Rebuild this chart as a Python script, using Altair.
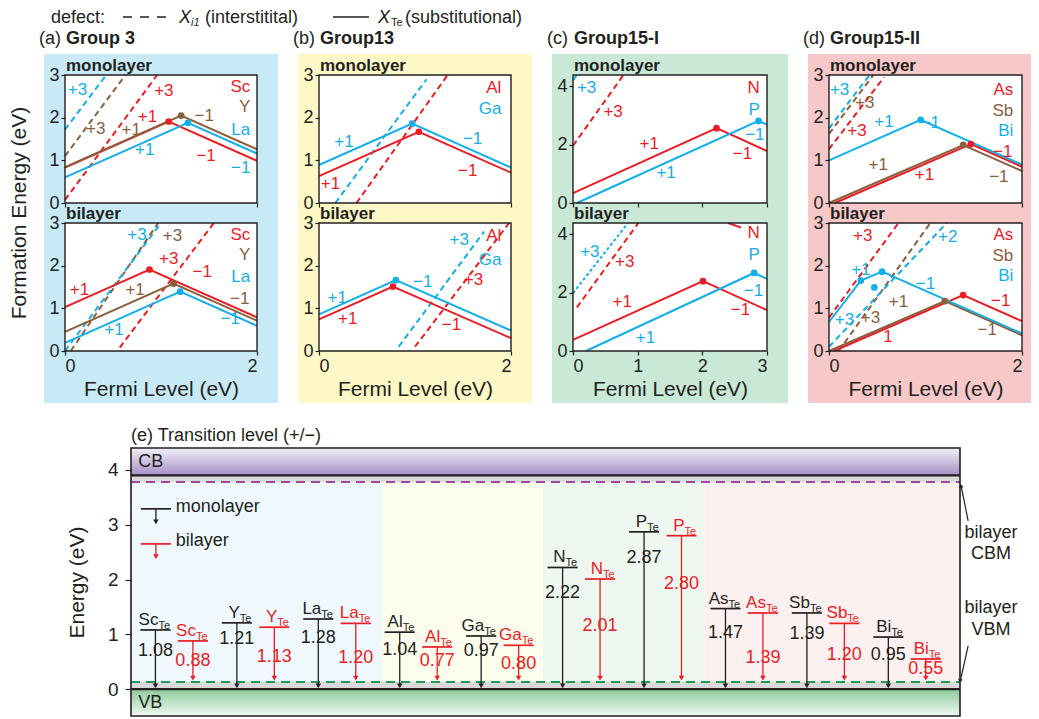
import altair as alt
import pandas as pd

FONT = "Liberation Sans"
INK = "#231f20"
RED = "#ec1c24"
BROWN = "#8b5e3c"
BLUE = "#14aeea"
COLORS = {"Sc": RED, "Y": BROWN, "La": BLUE, "Al": RED, "Ga": BLUE, "N": RED, "P": BLUE,
          "As": RED, "Sb": BROWN, "Bi": BLUE}

# ---------------- (a) Group 3 ----------------
A_MONO_SUB = [("Sc", [(0, 0.83), (1.08, 1.91), (2, 0.99)]),
              ("Y", [(0, 0.84), (1.21, 2.05), (2, 1.26)]),
              ("La", [(0, 0.60), (1.28, 1.88), (2, 1.16)])]
A_MONO_INT = [("La", [(0, 1.72), (0.43, 3.0)]), ("Y", [(0, 1.10), (0.63, 3.0)]),
              ("Sc", [(0.0, 0.07), (0.96, 3.0)])]
A_MONO_DOTS = [("Sc", 1.08, 1.91), ("Y", 1.21, 2.05), ("La", 1.28, 1.88)]
A_MONO_CHARGES = [("+3", "La", 0.13, 2.64), ("+3", "Sc", 1.03, 2.63), ("+1", "Sc", 0.86, 2.01),
                  ("+3", "Y", 0.32, 1.73), ("+1", "Y", 0.69, 1.71), ("+1", "La", 0.83, 1.24),
                  ("−1", "Y", 1.45, 2.05), ("−1", "Sc", 1.47, 1.10), ("−1", "La", 1.83, 0.82)]
A_MONO_LEGEND = [("Sc", 2.72), ("Y", 2.25), ("La", 1.72)]

A_BI_SUB = [("Sc", [(0, 1.03), (0.88, 1.91), (2, 0.79)]),
            ("Y", [(0, 0.45), (1.13, 1.58), (2, 0.71)]),
            ("La", [(0, 0.19), (1.20, 1.39), (2, 0.59)])]
A_BI_INT = [("Y", [(0.06, 0.0), (0.97, 3.0)]), ("La", [(0.0, 0.0), (1.0, 3.0)]),
            ("Sc", [(0.57, 0.08), (1.55, 3.0)])]
A_BI_DOTS = [("Sc", 0.88, 1.91), ("Y", 1.13, 1.58), ("La", 1.20, 1.39)]
A_BI_CHARGES = [("+3", "La", 0.75, 2.73), ("+3", "Y", 1.12, 2.69), ("+3", "Sc", 1.08, 2.15),
                ("+1", "Sc", 0.15, 1.44), ("+1", "Y", 0.73, 1.44), ("+1", "La", 0.51, 0.49),
                ("−1", "Sc", 1.43, 1.86), ("−1", "Y", 1.82, 1.22), ("−1", "La", 1.72, 0.74)]
A_BI_LEGEND = [("Sc", 2.72), ("Y", 2.25), ("La", 1.74)]

# ---------------- (b) Group 13 ----------------
B_MONO_SUB = [("Al", [(0, 0.63), (1.04, 1.67), (2, 0.71)]),
              ("Ga", [(0, 0.89), (0.97, 1.86), (2, 0.83)])]
B_MONO_INT = [("Ga", [(0.17, 0.0), (1.12, 2.9)]), ("Al", [(0.39, 0.0), (1.34, 3.0)])]
B_MONO_DOTS = [("Al", 1.04, 1.67), ("Ga", 0.97, 1.86)]
B_MONO_CHARGES = [("+1", "Ga", 0.26, 1.42), ("+1", "Al", 0.12, 0.45),
                  ("−1", "Ga", 1.60, 1.50), ("−1", "Al", 1.55, 0.76)]
B_MONO_LEGEND = [("Al", 2.70), ("Ga", 2.20)]

B_BI_SUB = [("Al", [(0, 0.74), (0.77, 1.51), (2, 0.30)]),
            ("Ga", [(0, 0.86), (0.80, 1.66), (2, 0.48)])]
B_BI_INT = [("Ga", [(0.83, 0.1), (1.72, 2.8)]), ("Al", [(1.0, 0.1), (1.98, 3.0)])]
B_BI_DOTS = [("Al", 0.77, 1.51), ("Ga", 0.80, 1.66)]
B_BI_CHARGES = [("+3", "Ga", 1.46, 2.59), ("+3", "Al", 1.61, 1.67), ("−1", "Ga", 1.08, 1.61),
                ("−1", "Al", 1.38, 0.62), ("+1", "Ga", 0.19, 1.24), ("+1", "Al", 0.30, 0.76)]
B_BI_LEGEND = [("Al", 2.69), ("Ga", 2.14)]

# ---------------- (c) Group 15-I ----------------
C_MONO_SUB = [("N", [(0, 0.34), (2.22, 2.56), (3, 1.78)]),
              ("P", [(0.06, 0.0), (2.87, 2.81), (3, 2.68)])]
C_MONO_INT = [("N", [(0.0, 1.96), (0.78, 4.38)]), ("P", [(0.0, 4.2), (0.06, 4.38)])]
C_MONO_DOTS = [("N", 2.22, 2.56), ("P", 2.87, 2.81)]
C_MONO_CHARGES = [("+3", "P", 0.21, 3.93), ("+3", "N", 0.62, 3.10), ("+1", "N", 1.18, 2.02),
                  ("+1", "P", 1.44, 1.03), ("−1", "P", 2.81, 2.31), ("−1", "N", 2.62, 1.67)]
C_MONO_LEGEND = [("N", 3.93), ("P", 3.18)]

C_BI_SUB = [("N", [(0, 0.38), (2.01, 2.39), (3, 1.40)]),
            ("N", [(2.4, 4.38), (2.6, 4.22)]),
            ("P", [(0.2, 0.0), (2.80, 2.67), (3, 2.47)])]
C_BI_INT = [("N", [(0.06, 1.49), (1.01, 4.38)])]
C_BI_INT_SHORT = [("P", [(0.0, 1.98), (0.85, 4.38)])]
C_BI_DOTS = [("N", 2.01, 2.39), ("P", 2.80, 2.67)]
C_BI_CHARGES = [("+3", "P", 0.26, 3.40), ("+3", "N", 0.80, 3.05), ("+1", "N", 0.76, 1.66),
                ("+1", "P", 1.12, 0.44), ("−1", "P", 2.79, 2.06), ("−1", "N", 2.59, 1.42)]
C_BI_LEGEND = [("N", 4.03), ("P", 3.28)]

# ---------------- (d) Group 15-II ----------------
D_MONO_SUB = [("As", [(0.06, 0.0), (1.47, 1.38), (2, 0.85)]),
              ("Sb", [(0, 0.0), (1.39, 1.36), (2, 0.75)]),
              ("Bi", [(0, 1.0), (0.95, 1.95), (2, 0.90)])]
D_MONO_INT = [("As", [(0.0, 1.26), (0.57, 2.95)]), ("Sb", [(0.0, 1.62), (0.46, 3.0)]),
              ("Bi", [(0.0, 1.75), (0.42, 3.0)])]
D_MONO_DOTS = [("As", 1.47, 1.38), ("Sb", 1.39, 1.36), ("Bi", 0.95, 1.95)]
D_MONO_CHARGES = [("+3", "Bi", 0.11, 2.66), ("+3", "Sb", 0.37, 2.35), ("+3", "As", 0.29, 1.69),
                  ("+1", "Bi", 0.57, 1.90), ("−1", "Bi", 1.05, 1.88), ("−1", "As", 1.80, 1.20),
                  ("−1", "Sb", 1.76, 0.61), ("+1", "Sb", 0.51, 0.88), ("+1", "As", 0.99, 0.65)]
D_MONO_LEGEND = [("As", 2.66), ("Sb", 2.15), ("Bi", 1.68)]

D_BI_SUB = [("As", [(0.05, 0.0), (1.39, 1.31), (2, 0.70)]),
            ("Sb", [(0, 0.0), (1.20, 1.17), (2, 0.37)]),
            ("Bi", [(0, 0.68), (0.33, 1.65), (0.55, 1.86), (2, 0.41)])]
D_BI_INT = [("As", [(0.0, 0.78), (0.72, 3.0)]), ("Sb", [(0.1, 0.0), (1.05, 3.0)]),
            ("Bi", [(0.0, 0.1), (1.22, 3.0)])]
D_BI_DOTS = [("As", 1.39, 1.31), ("Sb", 1.20, 1.17), ("Bi", 0.33, 1.65), ("Bi", 0.55, 1.86),
             ("Bi", 0.47, 1.49)]
D_BI_CHARGES = [("+3", "As", 0.35, 2.70), ("+2", "Bi", 1.23, 2.68), ("+1", "Bi", 0.33, 1.90),
                ("−1", "Bi", 1.00, 1.58), ("−1", "As", 1.78, 1.17), ("−1", "Sb", 1.64, 0.49),
                ("+1", "Sb", 0.72, 1.16), ("+3", "Sb", 0.43, 0.77), ("+3", "Bi", 0.16, 0.72),
                ("1", "As", 0.61, 0.32)]
D_BI_LEGEND = [("As", 2.73), ("Sb", 2.22), ("Bi", 1.75)]

# ---------------- (e) Transition levels ----------------
E_ELEMENTS = ["Sc", "Y", "La", "Al", "Ga", "N", "P", "As", "Sb", "Bi"]
E_MONO = [1.08, 1.21, 1.28, 1.04, 0.97, 2.22, 2.87, 1.47, 1.39, 0.95]
E_BI = [0.88, 1.13, 1.20, 0.77, 0.80, 2.01, 2.80, 1.39, 1.20, 0.55]
E_CB_EDGE = 3.90
E_VB_EDGE = 0.0
E_BI_CBM = 3.78
E_BI_VBM = 0.13
E_YTICKS = [0, 1, 2, 3, 4]

# label placement (layout only)
MONO_LABEL_DROP = [0.38, 0.30, 0.35, 0.33, 0.27, 0.46, 0.47, 0.44, 0.38, 0.33]
BI_LABEL_DROP = [0.37, 0.55, 0.64, 0.26, 0.35, 0.86, 0.88, 0.82, 0.57, 0.19]
GROUP_SPANS = [(-0.3, 2.78), (2.78, 4.76), (4.76, 6.74), (6.74, 9.88)]
GROUP_TINTS = ["#eef8fd", "#fdfdee", "#eff7f1", "#fdf0f0"]

ONE = pd.DataFrame({"a": [0]})


def lines_df(series):
    rows = []
    for k, (el, pts) in enumerate(series):
        for i, (x, y) in enumerate(pts):
            rows.append({"s": k, "x": x, "y": y, "i": i, "c": COLORS[el]})
    return pd.DataFrame(rows)


def vtext(text, x, y, size=17, weight="normal", style="normal", align="left",
          baseline="alphabetic", color=INK, angle=0):
    kw = dict(font=FONT, fontSize=size, fontWeight=weight, fontStyle=style, align=align,
              baseline=baseline, color=color)
    if angle:
        kw["angle"] = angle
    return alt.Chart(ONE).mark_text(**kw).encode(x=alt.value(x), y=alt.value(y),
                                                 text=alt.value(text))


def anchor(x, y):
    return alt.Chart(ONE).mark_point(opacity=0, size=1).encode(x=alt.value(x), y=alt.value(y))


def panel(sub, inter, dots, charges, legend, short=(), *, xdom, ydom, xticks, yticks, w, h,
          legx, bg, ext, tag, bottom, title=None, ylabel=False, left_anchor=False):
    xs = alt.Scale(domain=xdom, nice=False, zero=False)
    ys = alt.Scale(domain=ydom, nice=False, zero=False)
    xax = alt.Axis(values=xticks, labels=bottom, title="Fermi Level (eV)" if bottom else None,
                   format="d", titlePadding=3, labelPadding=2, zindex=1)
    yax = alt.Axis(values=yticks, title=None, format="d", labelPadding=2, zindex=1)
    X = alt.X("x:Q", scale=xs, axis=xax)
    Y = alt.Y("y:Q", scale=ys, axis=yax)
    C = alt.Color("c:N", scale=None)
    L, R, T, B = ext
    layers = [
        alt.Chart(ONE).mark_rect(color=bg).encode(x=alt.value(-L), x2=alt.value(w + R),
                                                  y=alt.value(-T), y2=alt.value(h + B)),
        alt.Chart(ONE).mark_rect(color="white").encode(x=alt.value(0), x2=alt.value(w),
                                                       y=alt.value(0), y2=alt.value(h)),
    ]
    for series, dash in ((inter, [6, 4]), (short, [3, 2.5]), (sub, None)):
        if not series:
            continue
        kw = {"strokeDash": dash} if dash else {}
        layers.append(alt.Chart(lines_df(series)).mark_line(strokeWidth=2, **kw).encode(
            x=X, y=Y, color=C, detail="s:N", order="i:Q"))
    ddf = pd.DataFrame([{"x": x, "y": y, "c": COLORS[e]} for e, x, y in dots])
    layers.append(alt.Chart(ddf).mark_circle(size=45, opacity=1).encode(x=X, y=Y, color=C))
    cdf = pd.DataFrame([{"x": x, "y": y, "t": t, "c": COLORS[e]} for t, e, x, y in charges])
    layers.append(alt.Chart(cdf).mark_text(font=FONT, fontSize=17, baseline="middle").encode(
        x=X, y=Y, text="t:N", color=C))
    ldf = pd.DataFrame([{"x": legx, "y": y, "t": e, "c": COLORS[e]} for e, y in legend])
    layers.append(alt.Chart(ldf).mark_text(font=FONT, fontSize=17, align="right",
                                           baseline="middle").encode(x=X, y=Y, text="t:N", color=C))
    layers.append(alt.Chart(ONE).mark_rect(fillOpacity=0, stroke=INK, strokeWidth=1.4).encode(
        x=alt.value(0), x2=alt.value(w), y=alt.value(0), y2=alt.value(h)))
    layers.append(vtext(tag, 1, -4, size=17, weight="bold"))
    if title:
        layers.append(vtext(title[0], -26, -31, size=18))
        layers.append(vtext(title[1], 1, -31, size=18, weight="bold"))
        layers.append(anchor(0, -46))
    if ylabel:
        layers.append(vtext("Formation Energy (eV)", -45, -10, size=21, align="center",
                            baseline="middle", angle=270))
    if left_anchor:
        layers.append(anchor(-56, 0))
    return alt.layer(*layers).properties(width=w, height=h)


def group(mono, bi, common, title, bg, right_ext=21, first=False):
    m = panel(*mono, **common, bg=bg, ext=(21, right_ext, 21, 10), tag="monolayer", bottom=False,
              title=title, left_anchor=first)
    b = panel(*bi, **common, bg=bg, ext=(21, right_ext, 10, 52), tag="bilayer", bottom=True,
              ylabel=first)
    return alt.vconcat(m, b, spacing=20, bounds="flush")


c3 = dict(xdom=[0, 2], ydom=[0, 3], xticks=[0, 1, 2], yticks=[0, 1, 2, 3], w=192, h=128)
ga = group((A_MONO_SUB, A_MONO_INT, A_MONO_DOTS, A_MONO_CHARGES, A_MONO_LEGEND),
           (A_BI_SUB, A_BI_INT, A_BI_DOTS, A_BI_CHARGES, A_BI_LEGEND),
           dict(c3, legx=1.93), ("(a)", "Group 3"), "#c8eaf7", first=True)
gb = group((B_MONO_SUB, B_MONO_INT, B_MONO_DOTS, B_MONO_CHARGES, B_MONO_LEGEND),
           (B_BI_SUB, B_BI_INT, B_BI_DOTS, B_BI_CHARGES, B_BI_LEGEND),
           dict(c3, legx=1.9), ("(b)", "Group13"), "#fdf8c6")
cc = dict(xdom=[0, 3], ydom=[0, 4.38], xticks=[0, 1, 2, 3], yticks=[0, 2, 4], w=194, h=128)
gc = group((C_MONO_SUB, C_MONO_INT, C_MONO_DOTS, C_MONO_CHARGES, C_MONO_LEGEND),
           (C_BI_SUB, C_BI_INT, C_BI_DOTS, C_BI_CHARGES, C_BI_LEGEND, C_BI_INT_SHORT),
           dict(cc, legx=2.89), ("(c)", "Group15-I"), "#c9e9d6")
gd = group((D_MONO_SUB, D_MONO_INT, D_MONO_DOTS, D_MONO_CHARGES, D_MONO_LEGEND),
           (D_BI_SUB, D_BI_INT, D_BI_DOTS, D_BI_CHARGES, D_BI_LEGEND),
           dict(c3, w=193, legx=1.91), ("(d)", "Group15-II"), "#f6c8c8", right_ext=9)
top = alt.hconcat(ga, gb, gc, gd, spacing=15)

# ---------------- header legend (origin = left edge of panel (a) plot) ----------------
header = alt.layer(
    anchor(-56, 0), anchor(-56, 18),
    vtext("defect:", -14, 14, size=18),
    alt.Chart(ONE).mark_rule(strokeDash=[9, 8], strokeWidth=1.6, color=INK).encode(
        x=alt.value(58), x2=alt.value(103), y=alt.value(8)),
    vtext("X", 114, 14, size=18, style="italic"),
    vtext("i1", 126, 17, size=11, style="italic"),
    vtext("(interstitital)", 140, 14, size=18),
    alt.Chart(ONE).mark_rule(strokeWidth=1.6, color=INK).encode(
        x=alt.value(268), x2=alt.value(304), y=alt.value(8)),
    vtext("X", 313, 14, size=18, style="italic"),
    vtext("Te", 326, 17, size=11),
    vtext("(substitutional)", 340, 14, size=18),
).properties(width=460, height=16)

# ---------------- (e) panel (origin = left edge of panel (a) plot) ----------------
EX0, EX1 = -0.3, 9.88
EY0, EY1 = -0.49, 4.4
E_LEFT = 66          # px between panel (a) plot edge and panel (e) frame
E_W, E_H = 829, 268
BI_SHIFT = 0.46
HALF = 0.185
ex_start = EX0 - E_LEFT * (EX1 - EX0) / E_W
exs = alt.Scale(domain=[ex_start, EX1], nice=False, zero=False)
eys = alt.Scale(domain=[EY0, EY1], nice=False, zero=False)
eyax = alt.Axis(values=E_YTICKS, title="Energy (eV)", format="d", labelFontSize=19,
                titleFontSize=21, tickSize=6, titlePadding=20, labelPadding=7, offset=-E_LEFT,
                zindex=1)
EC = alt.Color("c:N", scale=None)


def EX(f):
    return alt.X(f, scale=exs, axis=None)


def EY(f):
    return alt.Y(f, scale=eys, axis=eyax)


tint_df = pd.DataFrame({"x0": [s[0] for s in GROUP_SPANS], "x1": [s[1] for s in GROUP_SPANS],
                        "y0": E_BI_VBM, "y1": E_BI_CBM, "c": GROUP_TINTS})
gray_df = pd.DataFrame({"x0": [EX0, EX0], "x1": [EX1, EX1], "y0": [E_BI_CBM, E_VB_EDGE],
                        "y1": [E_CB_EDGE, E_BI_VBM]})
cb_df = pd.DataFrame({"x0": [EX0], "x1": [EX1], "y0": [E_CB_EDGE], "y1": [EY1]})
vb_df = pd.DataFrame({"x0": [EX0], "x1": [EX1], "y0": [EY0], "y1": [E_VB_EDGE]})
edge_df = pd.DataFrame({"x0": [EX0, EX0], "x1": [EX1, EX1], "y": [E_CB_EDGE, E_VB_EDGE]})
dash_df = pd.DataFrame({"x0": [EX0, EX0], "x1": [EX1, EX1], "y": [E_BI_CBM, E_BI_VBM],
                        "c": ["#a2469e", "#1c9e52"]})

mk = []
for i, el in enumerate(E_ELEMENTS):
    mk.append(dict(x=i, v=E_MONO[i], tip=0.01, c=INK, name=el, lab=f"{E_MONO[i]:.2f}",
                   ly=E_MONO[i] - MONO_LABEL_DROP[i]))
    mk.append(dict(x=i + BI_SHIFT, v=E_BI[i], tip=E_BI_VBM + 0.02, c=RED, name=el,
                   lab=f"{E_BI[i]:.2f}", ly=E_BI[i] - BI_LABEL_DROP[i]))
lab_df = pd.DataFrame(mk)
leg_df = pd.DataFrame([dict(x=0.006, v=3.29, tip=3.0, c=INK), dict(x=0.006, v=2.65, tip=2.37, c=RED)])
mark_df = pd.concat([lab_df[["x", "v", "tip", "c"]], leg_df], ignore_index=True)
mark_df["xl"] = mark_df["x"] - HALF
mark_df["xr"] = mark_df["x"] + HALF
mark_df["stem"] = mark_df["tip"] + 0.05

legtxt_df = pd.DataFrame({"x": [0.25, 0.25], "y": [3.32, 2.70], "t": ["monolayer", "bilayer"]})
band_txt_df = pd.DataFrame({"x": [-0.21, -0.21], "y": [4.15, -0.25], "t": ["CB", "VB"]})
side_txt_df = pd.DataFrame({"x": [10.26] * 4, "y": [2.85, 2.47, 1.48, 1.08],
                            "t": ["bilayer", "CBM", "bilayer", "VBM"]})
side_line_df = pd.DataFrame({"x": [9.98, 9.98], "x2": [9.895, 9.885], "y": [3.07, 0.79],
                             "y2": [3.70, 0.16]})
side_head_df = pd.DataFrame({"x": [9.89, 9.88], "y": [3.71, 0.15], "a": [349, 192]})

cb_grad = alt.LinearGradient(gradient="linear", x1=0, x2=0, y1=0, y2=1,
                             stops=[alt.GradientStop(color="#f2f0f7", offset=0),
                                    alt.GradientStop(color="#a58fc6", offset=1)])
vb_grad = alt.LinearGradient(gradient="linear", x1=0, x2=0, y1=0, y2=1,
                             stops=[alt.GradientStop(color="#8ccb9a", offset=0),
                                    alt.GradientStop(color="#f0f8f2", offset=1)])

TXT = dict(font=FONT)
e_layers = [
    alt.Chart(tint_df).mark_rect().encode(x=EX("x0:Q"), x2="x1:Q", y=EY("y0:Q"), y2="y1:Q", color=EC),
    alt.Chart(gray_df).mark_rect(color="#d9d9d9").encode(x=EX("x0:Q"), x2="x1:Q", y=EY("y0:Q"), y2="y1:Q"),
    alt.Chart(cb_df).mark_rect(color=cb_grad).encode(x=EX("x0:Q"), x2="x1:Q", y=EY("y0:Q"), y2="y1:Q"),
    alt.Chart(vb_df).mark_rect(color=vb_grad).encode(x=EX("x0:Q"), x2="x1:Q", y=EY("y0:Q"), y2="y1:Q"),
    alt.Chart(edge_df).mark_rule(strokeWidth=2.2, color=INK).encode(x=EX("x0:Q"), x2="x1:Q", y=EY("y:Q")),
    alt.Chart(dash_df).mark_rule(strokeWidth=2, strokeDash=[9, 6]).encode(
        x=EX("x0:Q"), x2="x1:Q", y=EY("y:Q"), color=EC),
    alt.Chart(mark_df).mark_rule(strokeWidth=1.3).encode(x=EX("x:Q"), y=EY("v:Q"), y2="stem:Q", color=EC),
    alt.Chart(mark_df).mark_rule(strokeWidth=1.7).encode(x=EX("xl:Q"), x2="xr:Q", y=EY("v:Q"), color=EC),
    alt.Chart(mark_df).mark_point(shape="triangle-down", filled=True, size=30, opacity=1).encode(
        x=EX("x:Q"), y=EY("stem:Q"), color=EC),
    alt.Chart(lab_df).mark_text(align="right", baseline="alphabetic", fontSize=17, dx=3, dy=-5, **TXT).encode(
        x=EX("x:Q"), y=EY("v:Q"), text="name:N", color=EC),
    alt.Chart(lab_df).mark_text(align="left", baseline="alphabetic", fontSize=11, dx=3, dy=-1, **TXT).encode(
        x=EX("x:Q"), y=EY("v:Q"), text=alt.value("Te"), color=EC),
    alt.Chart(lab_df).mark_text(align="center", baseline="middle", fontSize=18, **TXT).encode(
        x=EX("x:Q"), y=EY("ly:Q"), text="lab:N", color=EC),
    alt.Chart(legtxt_df).mark_text(align="left", baseline="middle", fontSize=18, color=INK, **TXT).encode(
        x=EX("x:Q"), y=EY("y:Q"), text="t:N"),
    alt.Chart(band_txt_df).mark_text(align="left", baseline="middle", fontSize=18, color=INK, **TXT).encode(
        x=EX("x:Q"), y=EY("y:Q"), text="t:N"),
    alt.Chart(side_txt_df).mark_text(align="center", baseline="middle", fontSize=18, color=INK, **TXT).encode(
        x=EX("x:Q"), y=EY("y:Q"), text="t:N"),
    alt.Chart(side_line_df).mark_rule(strokeWidth=1.2, color=INK).encode(
        x=EX("x:Q"), x2="x2:Q", y=EY("y:Q"), y2="y2:Q"),
    alt.Chart(side_head_df).mark_point(shape="triangle-up", filled=True, size=22, opacity=1,
                                       color=INK).encode(
        x=EX("x:Q"), y=EY("y:Q"), angle=alt.Angle("a:Q", scale=None)),
    alt.Chart(ONE).mark_rect(fillOpacity=0, stroke=INK, strokeWidth=1.6).encode(
        x=alt.value(E_LEFT), x2=alt.value(E_LEFT + E_W), y=alt.value(0), y2=alt.value(E_H)),
    vtext("(e) Transition level (+/−)", E_LEFT, -7, size=18),
    anchor(-56, -44),
]
echart = alt.layer(*e_layers).properties(width=E_LEFT + E_W, height=E_H)

chart = alt.vconcat(header, top, echart, spacing=0).properties(padding=0).configure_view(
    strokeWidth=0).configure_axis(
    labelFont=FONT, titleFont=FONT, labelColor=INK, titleColor=INK, tickColor=INK,
    domain=False, grid=False, titleFontWeight="normal", labelFontSize=18,
    titleFontSize=21, tickSize=4, tickWidth=1.2)

chart.save("out.html", embed_options={"renderer": "svg", "actions": False})
